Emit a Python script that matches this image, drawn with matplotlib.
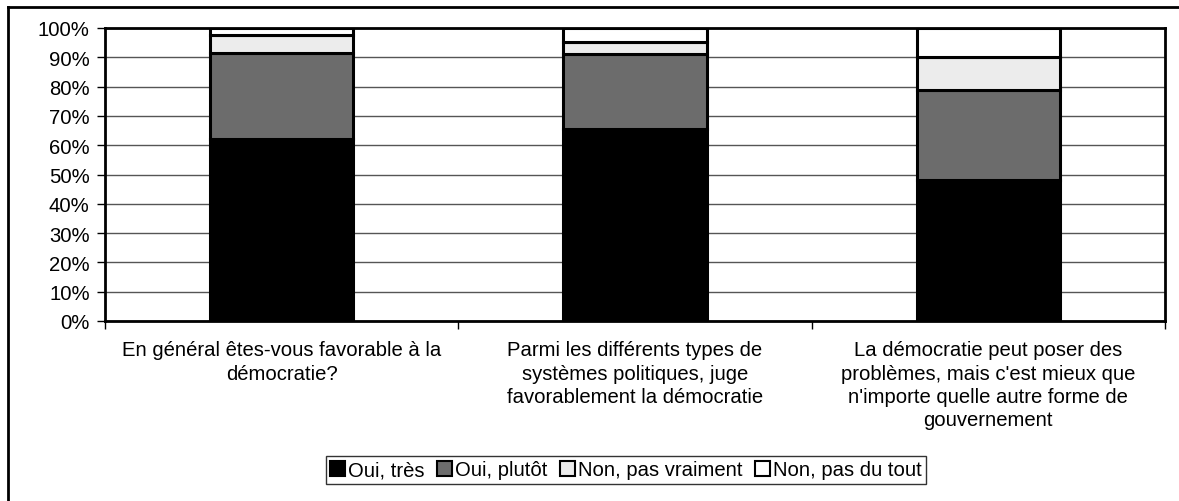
import matplotlib
matplotlib.use("Agg")
import matplotlib.pyplot as plt
from matplotlib.lines import Line2D
from matplotlib.patches import Patch

plt.rcParams['font.family'] = ['Liberation Sans', 'DejaVu Sans']

categories = [
    "En général êtes-vous favorable à la\ndémocratie?",
    "Parmi les différents types de\nsystèmes politiques, juge\nfavorablement la démocratie",
    "La démocratie peut poser des\nproblèmes, mais c'est mieux que\nn'importe quelle autre forme de\ngouvernement",
]
series_names = ["Oui, très", "Oui, plutôt", "Non, pas vraiment", "Non, pas du tout"]
tres = [62.0, 65.5, 48.0]
plutot = [29.5, 25.5, 31.0]
pas_vraiment = [6.0, 4.3, 11.0]
pas_du_tout = [2.5, 4.7, 10.0]
yticks = [0, 10, 20, 30, 40, 50, 60, 70, 80, 90, 100]

FS = 14.6

fig = plt.figure(figsize=(11.79, 5.02), dpi=100)
ax = fig.add_axes([105/1179, 1-322/502, 1060/1179, 293/502])

series = [tres, plutot, pas_vraiment, pas_du_tout]
faces = ['black', '#6c6c6c', '#ececec', 'white']
x = list(range(len(categories)))
bottom = [0.0] * len(categories)
for vals, fc in zip(series, faces):
    ax.bar(x, vals, width=0.405, bottom=bottom, color=fc, edgecolor='black',
           linewidth=2.2, zorder=3)
    bottom = [b + v for b, v in zip(bottom, vals)]

ax.set_xlim(-0.5, 2.5)
ax.set_ylim(0, 100)
ax.set_yticks(yticks)
ax.set_yticklabels([f"{v}%" for v in yticks], fontsize=FS)
ax.yaxis.grid(True, color='#555555', linewidth=1, zorder=0)
ax.set_axisbelow(True)
ax.set_xticks([-0.5, 0.5, 1.5, 2.5])
ax.set_xticklabels([])
ax.set_xticks(x, minor=True)
ax.set_xticklabels(categories, minor=True, fontsize=FS, linespacing=1.28, va='top')
ax.tick_params(axis='x', which='minor', length=0, pad=14)
ax.tick_params(axis='x', which='major', length=6, direction='out', width=1)
ax.tick_params(axis='y', length=6, direction='out', pad=5, width=1)
for s in ax.spines.values():
    s.set_linewidth(2)
    s.set_color('black')

handles = [Patch(facecolor=fc, edgecolor='black', linewidth=1.5) for fc in faces]
leg = fig.legend(handles, series_names, loc='center', bbox_to_anchor=(626/1179, 1-471/502),
                 ncol=4, fontsize=FS, frameon=True, fancybox=False, edgecolor='black',
                 handlelength=0.75, handleheight=0.75, handletextpad=0.15, columnspacing=0.6,
                 borderpad=0.2)
leg.get_frame().set_linewidth(1)

fig.add_artist(Line2D([8/1179, 8/1179], [0, 1-8/502], transform=fig.transFigure, color='black', linewidth=2))
fig.add_artist(Line2D([8/1179, 1], [1-8/502, 1-8/502], transform=fig.transFigure, color='black', linewidth=2))

fig.savefig("out.png", dpi=100)
